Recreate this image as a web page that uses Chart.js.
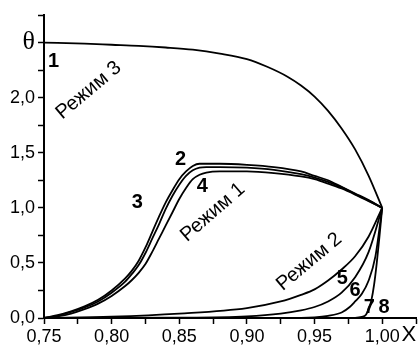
<!DOCTYPE html>
<html><head><meta charset="utf-8">
<script src="https://cdn.jsdelivr.net/npm/chart.js@4/dist/chart.umd.min.js"></script>
<style>html,body{margin:0;padding:0;background:#fff}#wrap{width:419px;height:345px;position:relative}canvas{display:block}</style>
</head><body><div id="wrap"><canvas id="c" width="419" height="345"></canvas></div>
<script>
// ---- Data ----
// Режим 3 (curve 1)
const c1X = [0.75,0.78,0.80,0.82,0.84,0.86,0.88,0.90,0.915,0.93,0.94,0.95,0.96,0.97,0.98,0.99,1.0];
const c1Y = [2.50,2.49,2.48,2.47,2.455,2.435,2.40,2.35,2.28,2.19,2.11,2.01,1.88,1.72,1.53,1.29,1.0];
// Режим 1 (curves 2, 3, 4)
const r1X = [0.75,0.76,0.77,0.78,0.79,0.80,0.81,0.815,0.82,0.825,0.83,0.835,0.84,0.845,0.85,0.855,0.86,0.865,0.87,0.88,0.90,0.92,0.94,0.95,0.96,0.97,0.98,0.99,1.0];
const c2Y = [0,0.025,0.06,0.105,0.165,0.25,0.36,0.43,0.52,0.64,0.78,0.92,1.05,1.16,1.26,1.33,1.38,1.40,1.40,1.40,1.39,1.37,1.33,1.29,1.25,1.19,1.13,1.07,1.0];
const c3Y = [0,0.02,0.055,0.095,0.15,0.23,0.33,0.40,0.48,0.59,0.72,0.85,0.99,1.11,1.21,1.29,1.34,1.365,1.37,1.37,1.365,1.345,1.305,1.275,1.235,1.185,1.125,1.065,1.0];
const c4Y = [0,0.015,0.04,0.08,0.13,0.2,0.29,0.345,0.41,0.49,0.6,0.72,0.84,0.96,1.08,1.18,1.26,1.30,1.32,1.33,1.33,1.315,1.285,1.26,1.22,1.175,1.12,1.06,1.0];
// Режим 2 (curves 5–8)
const c5X = [0.75,0.80,0.85,0.90,0.925,0.94,0.95,0.96,0.97,0.98,0.99,1.0];
const c5Y = [0,0.012,0.04,0.09,0.15,0.21,0.26,0.34,0.44,0.56,0.74,1.0];
const c6X = [0.75,0.85,0.90,0.925,0.94,0.95,0.96,0.97,0.98,0.99,1.0];
const c6Y = [0,0.003,0.015,0.04,0.07,0.1,0.15,0.23,0.37,0.6,1.0];
const c7X = [0.75,0.94,0.95,0.96,0.97,0.976,0.98,0.985,0.99,0.995,1.0];
const c7Y = [0,0.002,0.006,0.02,0.05,0.1,0.15,0.22,0.34,0.56,1.0];
const c8X = [0.75,0.98,0.985,0.988,0.99,0.992,0.994,0.996,0.998,1.0];
const c8Y = [0,0.002,0.01,0.03,0.08,0.16,0.3,0.5,0.74,1.0];

// Ticks
const xTicks = [0.75,0.775,0.80,0.825,0.85,0.875,0.90,0.925,0.95,0.975,1.0,1.025];
const xTickLabels = ['0,75','','0,80','','0,85','','0,90','','0,95','','1,00',''];
const yTicks = [0,0.25,0.5,0.75,1.0,1.25,1.5,1.75,2.0,2.25,2.5,2.75];
const yTickLabels = ['0,0','','0,5','','1,0','','1,5','','2,0','','θ',''];

// Annotations (data coordinates)
const numberLabels = [['1',0.757,2.33],['2',0.851,1.44],['3',0.819,1.045],['4',0.867,1.19],
  ['5',0.9706,0.36],['6',0.980,0.247],['7',0.9905,0.097],['8',1.0013,0.093]];
const modeLabels = [['Режим 3',0.783,2.066,-40],['Режим 1',0.8748,0.959,-41],['Режим 2',0.946,0.51,-40]];
const axisTitleX = ['X',1.0197,-0.157];

const pts = (xs, ys) => xs.map((x,i)=>({x, y: ys[i]}));
const series = [pts(c1X,c1Y),pts(r1X,c2Y),pts(r1X,c3Y),pts(r1X,c4Y),pts(c5X,c5Y),pts(c6X,c6Y),pts(c7X,c7Y),pts(c8X,c8Y)];

const annPlugin = {
  id:'ann',
  afterDatasetsDraw(chart){
    const c = chart.ctx, sx = chart.scales.x, sy = chart.scales.y;
    c.save();
    c.fillStyle = '#000';
    c.textAlign = 'center';
    c.textBaseline = 'middle';
    c.font = 'bold 20px "Liberation Sans", Arial, sans-serif';
    for (const [t,x,y] of numberLabels) c.fillText(t, sx.getPixelForValue(x), sy.getPixelForValue(y));
    c.font = '20px "Liberation Sans", Arial, sans-serif';
    for (const [t,x,y,a] of modeLabels) {
      c.save();
      c.translate(sx.getPixelForValue(x), sy.getPixelForValue(y));
      c.rotate(a*Math.PI/180);
      c.fillText(t,0,0);
      c.restore();
    }
    c.font = '22px "Liberation Sans", Arial, sans-serif';
    c.fillText(axisTitleX[0], sx.getPixelForValue(axisTitleX[1]), sy.getPixelForValue(axisTitleX[2]));
    c.restore();
  }
};

new Chart(document.getElementById('c'), {
  type: 'scatter',
  data: { datasets: series.map(d => ({
    data: d, showLine: true, borderColor: '#000', borderWidth: 1.8,
    pointRadius: 0, pointHoverRadius: 0, fill: false, cubicInterpolationMode: 'monotone'
  })) },
  options: {
    responsive: false, animation: false, events: [],
    layout: { padding: { top: 15, right: 3, left: 0, bottom: 0 } },
    plugins: { legend: { display: false }, tooltip: { enabled: false } },
    scales: {
      x: {
        type: 'linear', min: 0.75, max: 1.025,
        afterBuildTicks: s => { s.ticks = xTicks.map(v => ({ value: v })); },
        afterFit: s => { s.height = 27; },
        ticks: { callback: (v, i) => xTickLabels[i], autoSkip: false, maxRotation: 0, padding: 2,
          color: '#000', font: { family: '"Liberation Sans", Arial, sans-serif', size: 18 } },
        grid: { display: true, drawOnChartArea: false, drawTicks: true, tickLength: 6, tickWidth: 1.5, tickColor: '#000' },
        border: { display: true, color: '#000', width: 2 }
      },
      y: {
        type: 'linear', min: 0, max: 2.75,
        afterBuildTicks: s => { s.ticks = yTicks.map(v => ({ value: v })); },
        afterFit: s => { s.width = 44; },
        ticks: { callback: (v, i) => yTickLabels[i], autoSkip: false, padding: 3, color: '#000',
          font: ctx => (ctx.index === 10
            ? { family: '"Liberation Serif", "Times New Roman", serif', size: 26 }
            : { family: '"Liberation Sans", Arial, sans-serif', size: 18 }) },
        grid: { display: true, drawOnChartArea: false, drawTicks: true, tickLength: 6, tickWidth: 1.5, tickColor: '#000' },
        border: { display: true, color: '#000', width: 2 }
      }
    }
  },
  plugins: [annPlugin]
});
</script></body></html>
